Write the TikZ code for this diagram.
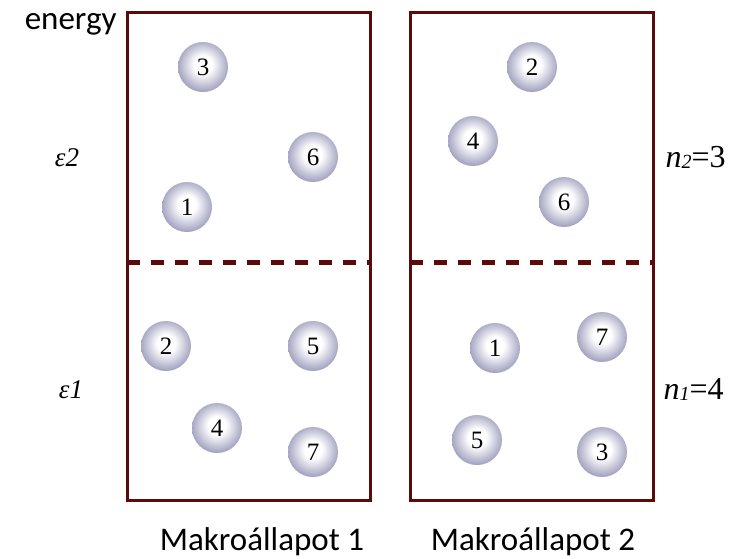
\documentclass[tikz,border=0pt]{standalone}
\usepackage{fontspec}
\setmainfont{Carlito}
\newfontfamily\numfont{Liberation Serif}
\usepackage{tikz}
\usetikzlibrary{positioning}
\definecolor{boxred}{RGB}{92,10,10}
\definecolor{ballrim}{RGB}{156,156,188}
\pgfdeclareradialshading{pearl}{\pgfpoint{0bp}{3bp}}{color(0bp)=(white); color(9bp)=(white); color(27bp)=(ballrim); color(50bp)=(ballrim)}

\begin{document}
\begin{tikzpicture}[line cap=butt,line join=miter,x=1pt,y=-1pt,
	ball/.style={circle,minimum size=50pt,inner sep=0pt,shading=pearl,font=\numfont\fontsize{25}{25}\selectfont},
	wall/.style={draw=boxred,line width=3pt,minimum width=243pt,minimum height=488pt,inner sep=0pt},
	level/.style={draw=boxred,line width=5pt,dash pattern=on 13pt off 11pt},
	lab/.style={font=\fontsize{33}{33}\selectfont},
	sym/.style={font=\numfont\itshape\fontsize{27}{27}\selectfont},
	count/.style={font=\numfont\fontsize{32}{32}\selectfont,anchor=west}]
	\useasboundingbox (0,0) rectangle (737,558);
	\node[wall] (macro1) at (248.5,256) {};
	\node[wall] (macro2) at (532,256) {};
	\coordinate (l1) at (127,262);
	\coordinate (r1) at (370,262);
	\coordinate (l2) at (410,262);
	\coordinate (r2) at (654,262);
	\draw[level] (l1) -- (r1);
	\draw[level] (l2) -- (r2);
	\foreach \n/\x/\y in {3/203/67,6/313/157,1/187/207,2/166/346,5/313/346,4/217/428,7/313/452}
		\node[ball] (a\n) at (\x,\y) {\n};
	\foreach \n/\x/\y in {2/532/67,4/473/141,6/564/202,1/495/348,7/602/337,5/477/440,3/602/452}
		\node[ball] (b\n) at (\x,\y) {\n};
	\node[lab,anchor=east] (energy) at (120,24) {energy};
	\node[sym] (eps2) at (67,158) {ε2};
	\node[sym] (eps1) at (71,390) {ε1};
	\node[count] (n2) at (662,157) {\textit{n}\raisebox{-1pt}{\itshape\fontsize{20}{20}\selectfont 2}=3};
	\node[count] (n1) at (660,389) {\textit{n}\raisebox{-1pt}{\itshape\fontsize{20}{20}\selectfont 1}=4};
	\node[lab] (state1) at (262,542) {Makroállapot 1};
	\node[lab] (state2) at (533,542) {Makroállapot 2};
\end{tikzpicture}
\end{document}
